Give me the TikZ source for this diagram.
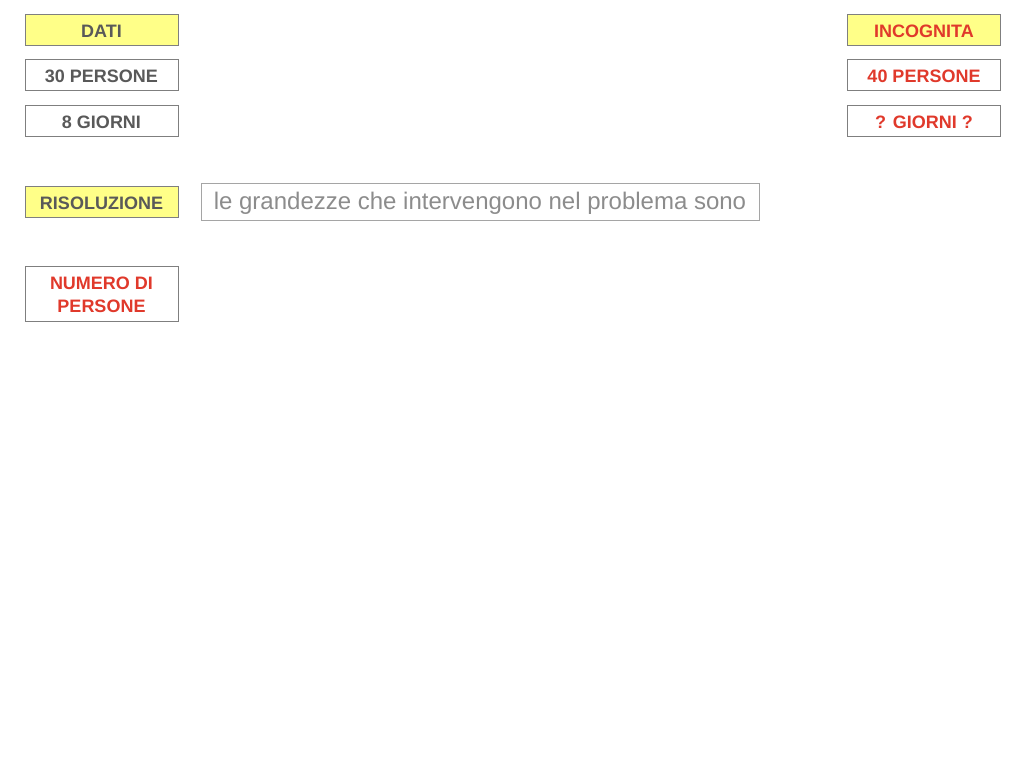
\documentclass[tikz,border=0pt]{standalone}
\usepackage{fontspec}
\setmainfont{Liberation Sans}
\definecolor{boxyellow}{HTML}{FFFF88}
\definecolor{boxline}{HTML}{7F7F7F}
\definecolor{datagray}{HTML}{595959}
\definecolor{unkred}{HTML}{E0392B}
\definecolor{notegray}{HTML}{8C8C8C}
\tikzset{
	databox/.style={draw=boxline, line width=0.9pt, minimum width=153pt, minimum height=31pt, inner sep=0pt, font=\fontsize{18}{21}\selectfont\bfseries, text=datagray, align=center, text height=15.5pt, text depth=0pt},
	headbox/.style={databox, fill=boxyellow},
	unkbox/.style={databox, text=unkred},
	notebox/.style={draw=boxline!70, line width=0.9pt, minimum width=558pt, minimum height=37pt, inner sep=0pt, font=\fontsize{24}{28}\selectfont, text=notegray, text height=20.5pt, text depth=4pt}
}
\begin{document}
\begin{tikzpicture}[x=1pt, y=-1pt]
		\useasboundingbox (0,0) rectangle (1024,768);
		% Data column
		\node[headbox] (dati) at (101.5,29.5) {DATI};
		\node[databox] (persone) at (101.5,75) {30 PERSONE};
		\node[databox] (giorni) at (101.5,120.5) {8 GIORNI};
		% Unknown column
		\node[headbox, text=unkred] (incognita) at (924,29.5) {INCOGNITA};
		\node[unkbox] (persnew) at (924,75) {40 PERSONE};
		\node[unkbox] (giorninew) at (924,120.5) {? GIORNI ?};
		% Solution
		\node[headbox] (risoluzione) at (101.5,201.5) {RISOLUZIONE};
		\node[notebox] (grandezze) at (480,201.5) {le grandezze che intervengono nel problema sono};
		\node[draw=boxline, line width=0.9pt, minimum width=153pt, minimum height=55pt, inner sep=0pt, align=center, text=unkred, font=\fontsize{18}{23}\selectfont\bfseries, text height=38.5pt, text depth=0pt] (numero) at (101.5,293.5) {NUMERO DI\\PERSONE};
	\end{tikzpicture}
\end{document}
